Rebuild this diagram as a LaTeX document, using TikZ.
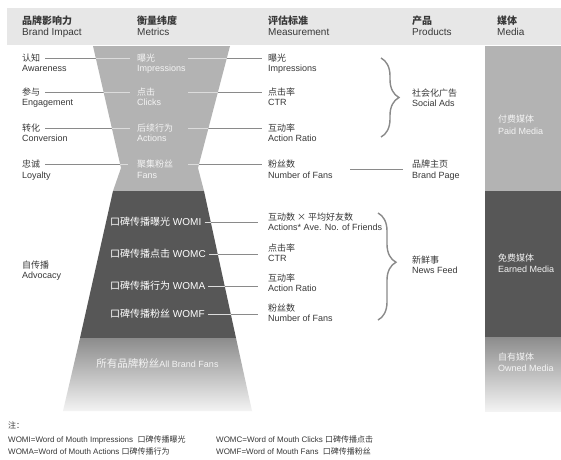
\documentclass[tikz,border=0pt]{standalone}
\usepackage{fontspec}
\setmainfont{Liberation Sans}
\newfontfamily\zhf{Noto Sans CJK SC}
\usetikzlibrary{decorations.pathreplacing}
\definecolor{hdrbg}{HTML}{E7E7E7}
\definecolor{litegray}{HTML}{B3B3B3}
\definecolor{darkgray2}{HTML}{575757}
\definecolor{txtc}{HTML}{383838}
\definecolor{linec}{HTML}{8A8A8A}
\definecolor{inlinec}{HTML}{DCDCDC}
\definecolor{wtxt}{HTML}{F4F4F4}
\definecolor{shtop}{HTML}{8C8C8C}
\definecolor{shbot}{HTML}{F3F3F3}
\newcommand\rowlines[1]{%
  \draw[#1,shorten <=5pt,shorten >=7pt] (l1.east) -- (m1.west);
  \draw[#1,shorten <=5pt,shorten >=7pt] (l2.east) -- (m2.west);
  \draw[#1,shorten <=5pt,shorten >=7pt] (l3.east) -- (m3.west);
  \draw[#1,shorten <=5pt,shorten >=9pt] (l4.east) -- (m4.west);
  \draw[#1,shorten >=6pt] ([xshift=51pt]m1.west) -- (s1.west);
  \draw[#1,shorten >=6pt] ([xshift=51pt]m2.west) -- (s2.west);
  \draw[#1,shorten >=6pt] ([xshift=51pt]m3.west) -- (s3.west);
  \draw[#1,shorten >=6pt] ([xshift=51pt]m4.west) -- (s4.west);
  \draw[#1,shorten <=3pt,shorten >=10pt] (w1.east) -- (w1.east -| s5.west);
  \draw[#1,shorten <=3pt,shorten >=10pt] (w2.east) -- (w2.east -| s5.west);
  \draw[#1,shorten <=3pt,shorten >=10pt] (w3.east) -- (w3.east -| s5.west);
  \draw[#1,shorten <=3pt,shorten >=10pt] (w4.east) -- (w4.east -| s5.west);
}
\begin{document}
\begin{tikzpicture}[x=1pt,y=-1pt,
  zh/.style={anchor=west,inner sep=0pt,text=txtc,font=\zhf\fontsize{9}{10}\selectfont},
  en/.style={anchor=base west,inner sep=0pt,text=txtc,font=\fontsize{9}{10}\selectfont},
  hzh/.style={anchor=west,inner sep=0pt,text=txtc,font=\zhf\bfseries\fontsize{10}{11}\selectfont},
  hen/.style={anchor=base west,inner sep=0pt,text=txtc,font=\fontsize{10}{11}\selectfont},
  wzh/.style={zh,text=wtxt},
  wen/.style={en,text=wtxt},
  conn/.style={draw=linec,line width=0.7pt},
  inconn/.style={draw=inlinec,line width=0.7pt},
  brc/.style={draw=linec,line width=1.4pt,decorate},
  wom/.style={anchor=west,inner sep=0pt,text=white,font=\fontsize{10}{11}\selectfont},
  note/.style={anchor=base west,inner sep=0pt,text=txtc,font=\fontsize{8}{9}\selectfont},
]
\useasboundingbox (0,0) rectangle (561,459);
\fill[white] (0,0) rectangle (561,459);
% header band
\fill[hdrbg] (7,8) rectangle (561,45);
% funnel
\fill[litegray] (93,46) -- (230,46) -- (198,168) -- (204,191) -- (113,191) -- (121,168) -- cycle;
\fill[darkgray2] (113,191) -- (204,191) -- (236,338) -- (80,338) -- cycle;
\shade[top color=shtop,bottom color=shbot] (80,338) -- (236,338) -- (252,411) -- (63,411) -- cycle;
% media column
\fill[litegray] (485,46) rectangle (561,191);
\fill[darkgray2] (485,191) rectangle (561,337);
\shade[top color=shtop,bottom color=shbot] (485,337) rectangle (561,411);

% header texts
\node[hzh] (h1) at (22,21) {品牌影响力};
\node[hen] (h1e) at (22,35) {Brand Impact};
\node[hzh] (h2) at (137,21) {衡量纬度};
\node[hen] (h2e) at (137,35) {Metrics};
\node[hzh] (h3) at (268,21) {评估标准};
\node[hen] (h3e) at (268,35) {Measurement};
\node[hzh] (h4) at (412,21) {产品};
\node[hen] (h4e) at (412,35) {Products};
\node[hzh] (h5) at (497,21) {媒体};
\node[hen] (h5e) at (497,35) {Media};

% left labels
\node[zh] (l1) at (22,58) {认知};
\node[en] (l1e) at (22,71.2) {Awareness};
\node[zh] (l2) at (22,92) {参与};
\node[en] (l2e) at (22,105.2) {Engagement};
\node[zh] (l3) at (22,128) {转化};
\node[en] (l3e) at (22,141.2) {Conversion};
\node[zh] (l4) at (22,164) {忠诚};
\node[en] (l4e) at (22,178.2) {Loyalty};
\node[zh] (l5) at (22,265) {自传播};
\node[en] (l5e) at (22,278.2) {Advocacy};

% metrics in funnel
\node[wzh] (m1) at (137,58) {曝光};
\node[wen] (m1e) at (137,71.2) {Impressions};
\node[wzh] (m2) at (137,92) {点击};
\node[wen] (m2e) at (137,105.2) {Clicks};
\node[wzh] (m3) at (137,128) {后续行为};
\node[wen] (m3e) at (137,141.2) {Actions};
\node[wzh] (m4) at (137,164) {聚集粉丝};
\node[wen] (m4e) at (137,178.2) {Fans};

\node[wom] (w1) at (110,222) {{\zhf 口碑传播曝光} WOMI};
\node[wom] (w2) at (110,254) {{\zhf 口碑传播点击} WOMC};
\node[wom] (w3) at (110,286) {{\zhf 口碑传播行为} WOMA};
\node[wom] (w4) at (110,314) {{\zhf 口碑传播粉丝} WOMF};
\node[inner sep=0pt,text=wtxt] (allf) at (157.5,363) {{\zhf\fontsize{10.5}{12}\selectfont 所有品牌粉丝}{\fontsize{9}{11}\selectfont All Brand Fans}};

% measurement
\node[zh] (s1) at (268,58) {曝光};
\node[en] (s1e) at (268,71.2) {Impressions};
\node[zh] (s2) at (268,92) {点击率};
\node[en] (s2e) at (268,105.2) {CTR};
\node[zh] (s3) at (268,128) {互动率};
\node[en] (s3e) at (268,141.2) {Action Ratio};
\node[zh] (s4) at (268,164) {粉丝数};
\node[en] (s4e) at (268,178.2) {Number of Fans};
\node[zh] (s5) at (268,217) {互动数 × 平均好友数};
\node[en] (s5e) at (268,230.2) {Actions* Ave. No. of Friends};
\node[zh] (s6) at (268,248) {点击率};
\node[en] (s6e) at (268,261.2) {CTR};
\node[zh] (s7) at (268,278) {互动率};
\node[en] (s7e) at (268,291.2) {Action Ratio};
\node[zh] (s8) at (268,308) {粉丝数};
\node[en] (s8e) at (268,321.2) {Number of Fans};

% products
\node[zh] (p1) at (412,93) {社会化广告};
\node[en] (p1e) at (412,106.2) {Social Ads};
\node[zh] (p2) at (412,164) {品牌主页};
\node[en] (p2e) at (412,178.2) {Brand Page};
\node[zh] (p3) at (412,260) {新鲜事};
\node[en] (p3e) at (412,273.2) {News Feed};

% media
\node[wzh] (d1) at (498,119) {付费媒体};
\node[wen] (d1e) at (498,134.2) {Paid Media};
\node[wzh] (d2) at (498,258) {免费媒体};
\node[wen] (d2e) at (498,272.2) {Earned Media};
\node[wzh] (d3) at (498,357) {自有媒体};
\node[wen] (d3e) at (498,371.2) {Owned Media};

% connectors
\rowlines{conn}
\begin{scope}
  \clip (93,46) -- (230,46) -- (198,168) -- (204,191) -- (113,191) -- (121,168) -- cycle
        (113,191) -- (204,191) -- (236,338) -- (80,338) -- cycle;
  \rowlines{inconn}
\end{scope}
\coordinate (bpstart) at (350,169);
\draw[conn,shorten >=9pt] (bpstart) -- (bpstart -| p2.west);
\draw[brc,decoration={brace,amplitude=18pt}] (381,58) -- (381,137);
\draw[brc,decoration={brace,amplitude=18pt,aspect=0.46}] (378,213) -- (378,320);

% notes
\node[note] (n0) at (8,428.5) {\zhf 注：};
\node[note] (n1) at (8,442) {WOMI=Word of Mouth Impressions \ {\zhf 口碑传播曝光}};
\node[note] (n2) at (216,442) {WOMC=Word of Mouth Clicks {\zhf 口碑传播点击}};
\node[note] (n3) at (8,454) {WOMA=Word of Mouth Actions {\zhf 口碑传播行为}};
\node[note] (n4) at (216,454) {WOMF=Word of Mouth Fans \ {\zhf 口碑传播粉丝}};
\end{tikzpicture}
\end{document}
